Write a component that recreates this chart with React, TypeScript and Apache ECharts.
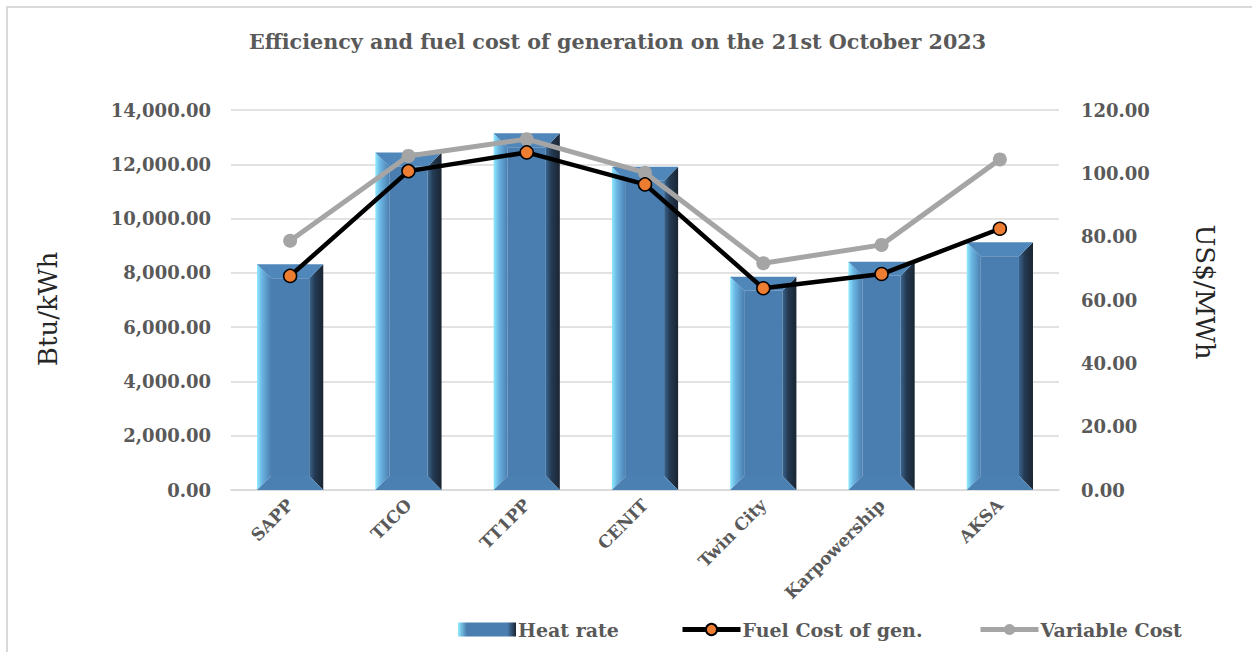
import React, { useEffect, useRef } from 'react';
import * as echarts from 'echarts';

const categories = ['SAPP', 'TICO', 'TT1PP', 'CENIT', 'Twin City', 'Karpowership', 'AKSA'];
const heatRate = [8315, 12430, 13140, 11910, 7860, 8410, 9130];
const fuelCost = [67.6, 100.7, 106.6, 96.5, 63.7, 68.2, 82.5];
const variableCost = [78.7, 105.5, 110.8, 100.2, 71.6, 77.4, 104.4];

const FONT = 'DejaVu Serif';
const GRAY = '#595959';

const fmt = (v: number) =>
  v.toLocaleString('en-US', { minimumFractionDigits: 2, maximumFractionDigits: 2 });

export default function App() {
  const ref = useRef<HTMLDivElement>(null);
  useEffect(() => {
    const chart = echarts.init(ref.current!, null, { renderer: 'svg' });
    const face = '#4A7EB0';
    const legendBase = {
      top: 615,
      itemWidth: 58,
      itemHeight: 14,
      textStyle: {
        fontFamily: FONT,
        fontWeight: 'bold',
        fontSize: 19,
        color: GRAY,
        padding: [0, 0, 0, -3],
      },
    };
    const option: any = {
      animation: false,
      backgroundColor: '#ffffff',
      title: {
        text: 'Efficiency and fuel cost of generation on the 21st October 2023',
        left: 244,
        top: 26,
        textStyle: { fontFamily: FONT, fontWeight: 'bold', fontSize: 20.7, color: GRAY },
      },
      graphic: [
        {
          type: 'rect',
          shape: { x: 7, y: 7, width: 1300, height: 700 },
          style: { fill: 'none', stroke: '#D9D9D9', lineWidth: 2 },
          silent: true,
          z: -10,
        },
      ],
      legend: [
        {
          ...legendBase,
          left: 453,
          data: [
            {
              name: 'Heat rate',
              icon: 'rect',
              itemStyle: {
                color: new echarts.graphic.LinearGradient(0, 0, 1, 0, [
                  { offset: 0, color: '#90EAFF' },
                  { offset: 0.15, color: face },
                  { offset: 0.85, color: face },
                  { offset: 1, color: '#1A2533' },
                ]),
              },
            },
          ],
        },
        {
          ...legendBase,
          left: 675,
          data: [{ name: 'Fuel Cost of gen.', lineStyle: { width: 5, color: '#000000' } }],
        },
        {
          ...legendBase,
          left: 973,
          data: [{ name: 'Variable Cost', lineStyle: { width: 5, color: '#A5A5A5' } }],
        },
      ],
      grid: { left: 231, right: 193, top: 110, bottom: 162 },
      xAxis: {
        type: 'category',
        data: categories,
        axisLine: { lineStyle: { color: '#D9D9D9', width: 1.5 } },
        axisTick: { show: false },
        axisLabel: {
          rotate: 45,
          margin: 12,
          fontFamily: FONT,
          fontWeight: 'bold',
          fontSize: 17,
          color: GRAY,
        },
      },
      yAxis: [
        {
          type: 'value',
          min: 0,
          max: 14000,
          interval: 2000,
          name: 'Btu/kWh',
          nameLocation: 'middle',
          nameRotate: 90,
          nameGap: 170,
          nameTextStyle: { fontFamily: FONT, fontSize: 26, color: '#262626', padding: [0, 0, 0, -18] },
          axisLine: { show: false },
          axisTick: { show: false },
          splitLine: { lineStyle: { color: '#D9D9D9', width: 1.5 } },
          axisLabel: {
            margin: 20,
            formatter: (v: number) => fmt(v),
            fontFamily: FONT,
            fontWeight: 'bold',
            fontSize: 18,
            color: GRAY,
          },
        },
        {
          type: 'value',
          min: 0,
          max: 120,
          interval: 20,
          name: 'US$/MWh',
          nameLocation: 'middle',
          nameRotate: -90,
          nameGap: 133,
          nameTextStyle: { fontFamily: FONT, fontSize: 26, color: '#262626', padding: [0, 0, 0, -16] },
          axisLine: { show: false },
          axisTick: { show: false },
          splitLine: { show: false },
          axisLabel: {
            margin: 22,
            formatter: (v: number) => fmt(v),
            fontFamily: FONT,
            fontWeight: 'bold',
            fontSize: 18,
            color: GRAY,
          },
        },
      ],
      series: [
        {
          name: 'Heat rate',
          type: 'custom',
          yAxisIndex: 0,
          encode: { x: 0, y: 1 },
          itemStyle: { color: face },
          data: heatRate.map((v, i) => [i, v]),
          renderItem: (params: any, api: any) => {
            const idx = api.value(0);
            const val = api.value(1);
            const top = api.coord([idx, val]);
            const base = api.coord([idx, 0]);
            const w = api.size([1, 0])[0] * 0.56;
            const x0 = top[0] - w / 2;
            const x1 = top[0] + w / 2;
            const yT = top[1];
            const yB = base[1];
            const b = 14;
            return {
              type: 'group',
              children: [
                {
                  type: 'rect',
                  shape: { x: x0 + b, y: yT + b, width: w - 2 * b, height: yB - yT - 2 * b },
                  style: { fill: face },
                },
                {
                  type: 'polygon',
                  shape: { points: [[x0, yT], [x0 + b, yT + b], [x0 + b, yB - b], [x0, yB]] },
                  style: {
                    fill: new echarts.graphic.LinearGradient(0, 0, 1, 0, [
                      { offset: 0, color: '#90EAFF' },
                      { offset: 0.35, color: '#6BB6E3' },
                      { offset: 1, color: face },
                    ]),
                  },
                },
                {
                  type: 'polygon',
                  shape: { points: [[x1, yT], [x1 - b, yT + b], [x1 - b, yB - b], [x1, yB]] },
                  style: {
                    fill: new echarts.graphic.LinearGradient(0, 0, 1, 0, [
                      { offset: 0, color: '#3A6590' },
                      { offset: 0.4, color: '#243A52' },
                      { offset: 1, color: '#1A2533' },
                    ]),
                  },
                },
                {
                  type: 'polygon',
                  shape: { points: [[x0, yT], [x1, yT], [x1 - b, yT + b], [x0 + b, yT + b]] },
                  style: { fill: '#5087BA' },
                },
                {
                  type: 'polygon',
                  shape: { points: [[x0, yB], [x1, yB], [x1 - b, yB - b], [x0 + b, yB - b]] },
                  style: { fill: '#4B80B2' },
                },
              ],
            };
          },
          z: 1,
        },
        {
          name: 'Fuel Cost of gen.',
          type: 'line',
          yAxisIndex: 1,
          data: fuelCost,
          symbol: 'circle',
          symbolSize: 13,
          lineStyle: { color: '#000000', width: 4.5 },
          itemStyle: { color: '#ED7D31', borderColor: '#000000', borderWidth: 1.5 },
          z: 3,
        },
        {
          name: 'Variable Cost',
          type: 'line',
          yAxisIndex: 1,
          data: variableCost,
          symbol: 'circle',
          symbolSize: 14,
          lineStyle: { color: '#A5A5A5', width: 5 },
          itemStyle: { color: '#A5A5A5' },
          z: 2,
        },
      ],
    };
    chart.setOption(option);
    return () => chart.dispose();
  }, []);
  return (
    <div
      ref={ref}
      style={{ position: 'fixed', left: 0, top: 0, width: 1252, height: 652, background: '#fff' }}
    />
  );
}
